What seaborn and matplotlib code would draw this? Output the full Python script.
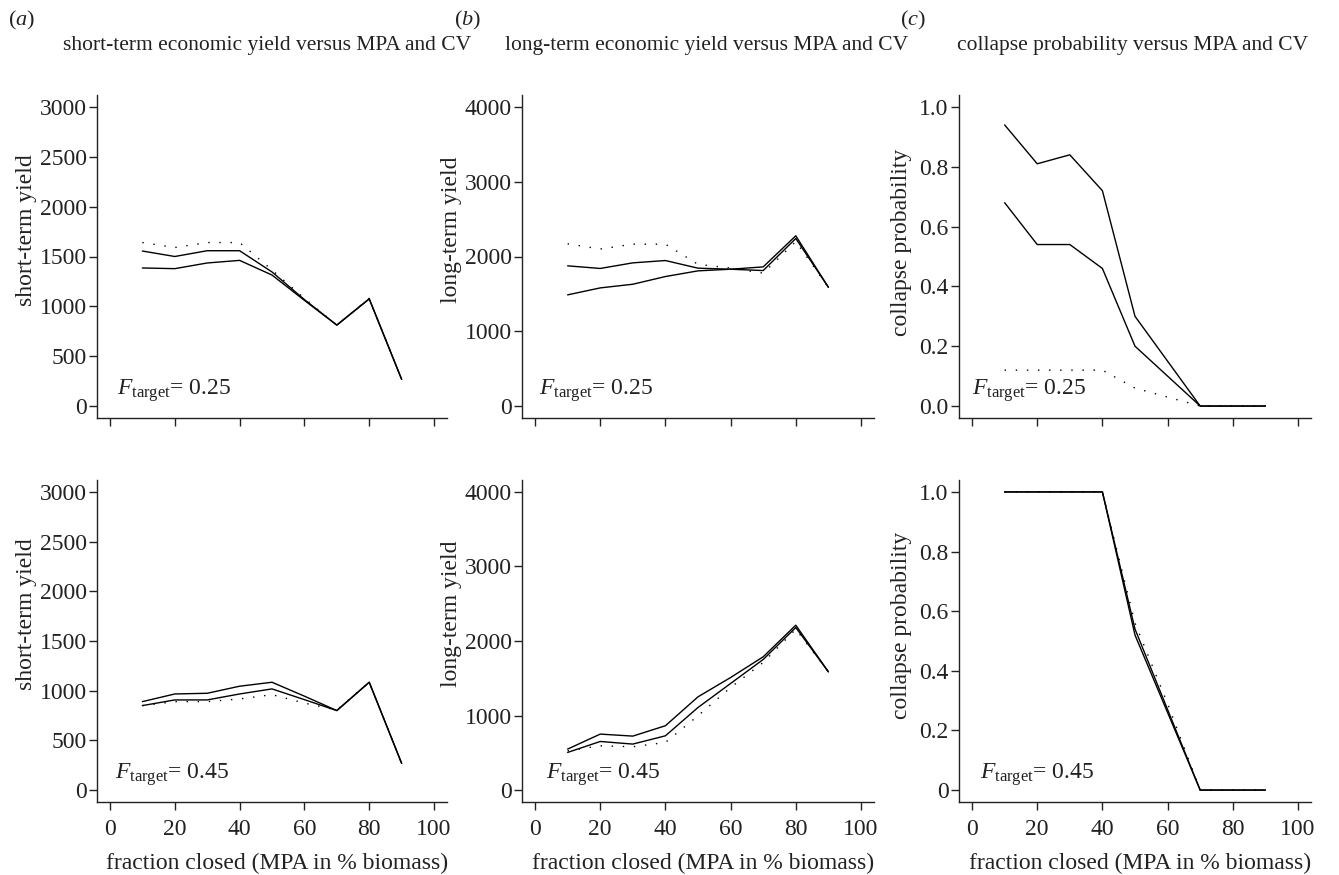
import numpy as np
import pandas as pd
import matplotlib
matplotlib.use("Agg")
import matplotlib.pyplot as plt
import seaborn as sns

# ---------------- data ----------------
fraction_closed = [10, 20, 30, 40, 50, 60, 70, 80, 90]
series_names = ["dotted", "solid_a", "solid_b"]

# short-term yield, F_target = 0.25
st25_dotted = [1640, 1590, 1640, 1640, 1365, 1080, 812, 1080, 268]
st25_solid_a = [1555, 1500, 1558, 1558, 1345, 1068, 812, 1075, 268]
st25_solid_b = [1385, 1378, 1435, 1461, 1314, 1060, 812, 1075, 268]

# long-term yield, F_target = 0.25
lt25_dotted = [2170, 2100, 2165, 2165, 1895, 1845, 1777, 2200, 1589]
lt25_solid_a = [1875, 1840, 1915, 1946, 1844, 1830, 1861, 2277, 1589]
lt25_solid_b = [1487, 1580, 1629, 1732, 1808, 1830, 1812, 2241, 1589]

# collapse probability, F_target = 0.25
cp25_dotted = [0.12, 0.12, 0.12, 0.12, 0.06, 0.03, 0.0, 0.0, 0.0]
cp25_solid_a = [0.94, 0.81, 0.84, 0.72, 0.30, 0.15, 0.0, 0.0, 0.0]
cp25_solid_b = [0.68, 0.54, 0.54, 0.46, 0.20, 0.10, 0.0, 0.0, 0.0]

# short-term yield, F_target = 0.45
st45_dotted = [850, 890, 890, 917, 960, 875, 806, 1085, 269]
st45_solid_a = [890, 967, 974, 1045, 1085, 945, 800, 1085, 269]
st45_solid_b = [850, 907, 907, 967, 1018, 910, 800, 1085, 269]

# long-term yield, F_target = 0.45
lt45_dotted = [527, 594, 581, 639, 997, 1376, 1712, 2158, 1587]
lt45_solid_a = [550, 751, 724, 863, 1251, 1510, 1788, 2212, 1587]
lt45_solid_b = [505, 652, 617, 728, 1108, 1430, 1752, 2181, 1587]

# collapse probability, F_target = 0.45
cp45_dotted = [1.0, 1.0, 1.0, 1.0, 0.56, 0.29, 0.0, 0.0, 0.0]
cp45_solid_a = [1.0, 1.0, 1.0, 1.0, 0.54, 0.27, 0.0, 0.0, 0.0]
cp45_solid_b = [1.0, 1.0, 1.0, 1.0, 0.52, 0.26, 0.0, 0.0, 0.0]

panel_titles = ["short-term economic yield versus MPA and CV",
                "long-term economic yield versus MPA and CV",
                "collapse probability versus MPA and CV"]
panel_letters = ["a", "b", "c"]
y_labels = ["short-term yield", "long-term yield", "collapse probability"]
x_label = "fraction closed (MPA in % biomass)"
f_targets = ["0.25", "0.45"]
x_ticks = [0, 20, 40, 60, 80, 100]
yield_st_ticks = [0, 500, 1000, 1500, 2000, 2500, 3000]
yield_lt_ticks = [0, 1000, 2000, 3000, 4000]
prob_ticks = [0.0, 0.2, 0.4, 0.6, 0.8, 1.0]
prob_ticklabels_top = ["0.0", "0.2", "0.4", "0.6", "0.8", "1.0"]
prob_ticklabels_bottom = ["0", "0.2", "0.4", "0.6", "0.8", "1.0"]

# ---------------- style ----------------
sns.set_theme(style="ticks")
plt.rcParams["font.family"] = ["Liberation Serif", "DejaVu Serif"]
plt.rcParams["mathtext.fontset"] = "custom"
plt.rcParams["mathtext.rm"] = "Liberation Serif"
plt.rcParams["mathtext.it"] = "Liberation Serif:italic"
plt.rcParams["axes.linewidth"] = 1.0
plt.rcParams["axes.edgecolor"] = "#222222"

FS = 17
W, H = 1339, 875
fig = plt.figure(figsize=(W / 100, H / 100), dpi=100)


def make_df(vals):
    rows = []
    for name, v in zip(series_names, vals):
        for xx, yy in zip(fraction_closed, v):
            rows.append({"x": xx, "y": yy, "series": name})
    return pd.DataFrame(rows)


data = [
    [make_df([st25_dotted, st25_solid_a, st25_solid_b]),
     make_df([lt25_dotted, lt25_solid_a, lt25_solid_b]),
     make_df([cp25_dotted, cp25_solid_a, cp25_solid_b])],
    [make_df([st45_dotted, st45_solid_a, st45_solid_b]),
     make_df([lt45_dotted, lt45_solid_a, lt45_solid_b]),
     make_df([cp45_dotted, cp45_solid_a, cp45_solid_b])],
]

# pixel boxes (left, right) and (top, bottom)
cols_px = [(97, 447), (522, 874), (959, 1311)]
rows_px = [(95, 418), (480, 802)]
ylims = [(-120, 3120), (-160, 4160), (-0.04, 1.04)]
yticks = [yield_st_ticks, yield_lt_ticks, prob_ticks]
ylabel_xpx = [27, 451, 902]
ylabel_y = [[0.582, 0.582, 0.545], [0.584, 0.584, 0.547]]
f_x = [[0.057, 0.048, 0.037], [0.051, 0.068, 0.060]]
title_center_px = [267, 707, 1133]

dash_map = {"dotted": (1, 7), "solid_a": "", "solid_b": ""}

for r in range(2):
    for c in range(3):
        l, rr = cols_px[c]
        t, b = rows_px[r]
        ax = fig.add_axes([l / W, (H - b) / H, (rr - l) / W, (b - t) / H])
        sns.lineplot(data=data[r][c], x="x", y="y", style="series",
                     dashes=dash_map, color="black", linewidth=1.0,
                     estimator=None, legend=False, ax=ax)
        sns.despine(ax=ax)
        ax.set_xlim(-4, 104)
        ax.set_ylim(*ylims[c])
        ax.set_xticks(x_ticks)
        ax.set_yticks(yticks[c])
        if c == 2:
            ax.set_yticklabels(prob_ticklabels_top if r == 0 else prob_ticklabels_bottom)
        ax.tick_params(axis="both", direction="out", length=6, width=1.0,
                       color="#222222", labelsize=FS, labelcolor="#222222")
        ax.tick_params(axis="y", pad=1.5)
        ax.tick_params(axis="x", pad=6)
        if r == 0:
            ax.tick_params(axis="x", labelbottom=False)
            ax.set_xlabel("")
        else:
            ax.set_xlabel(x_label, fontsize=FS, color="#222222")
            ax.xaxis.set_label_coords(0.515, -0.19)
            ax.xaxis.label.set_va("center")
        ax.set_ylabel(y_labels[c], fontsize=FS, color="#222222")
        ax.yaxis.set_label_coords((ylabel_xpx[c] - l) / (rr - l), ylabel_y[r][c])
        ax.yaxis.label.set_va("center")
        ax.text(f_x[r][c], 0.071, r"$F_{\mathrm{target}}$" + "= " + f_targets[r],
                transform=ax.transAxes, fontsize=FS, color="#222222",
                ha="left", va="baseline")
        ax.set_facecolor("white")
        if r == 0:
            fig.text(title_center_px[c] / W, 1 - 50 / H, panel_titles[c],
                     ha="center", va="baseline", fontsize=15.5, color="#222222")

# panel letters
for i, letter in enumerate(panel_letters):
    fig.text((8 + i * 446) / W, 1 - 25 / H, "(" + r"$\it{" + letter + "}$" + ")",
             ha="left", va="baseline", fontsize=16, color="#222222")

fig.savefig("out.png", dpi=100, facecolor="white")
